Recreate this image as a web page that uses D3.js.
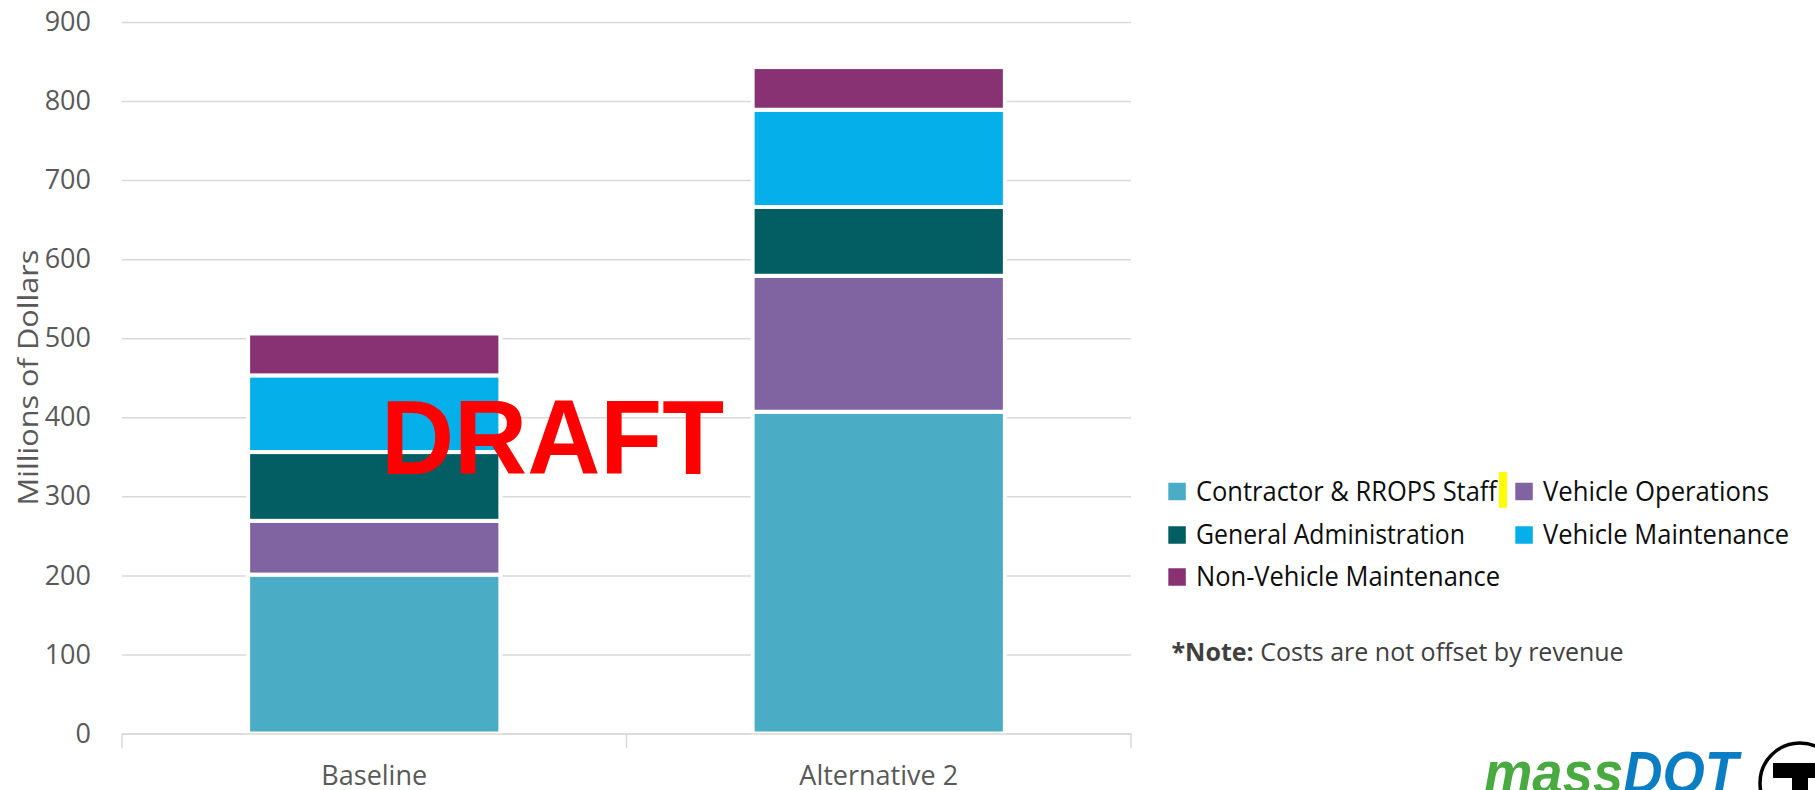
<!DOCTYPE html>
<html><head><meta charset="utf-8">
<script src="https://cdn.jsdelivr.net/npm/d3@7"></script>
<style>body{margin:0;background:#fff;} svg{display:block;font-family:"Open Sans",sans-serif;}</style>
</head><body><svg id="chart" width="1815" height="790"></svg>
<script>
const categories = ["Baseline", "Alternative 2"];
const seriesNames = ["Contractor & RROPS Staff", "Vehicle Operations", "General Administration", "Vehicle Maintenance", "Non-Vehicle Maintenance"];
const contractorStaff = [201, 407];
const vehicleOperations = [68, 172];
const generalAdministration = [87, 87];
const vehicleMaintenance = [97, 123];
const nonVehicleMaintenance = [53, 54];
const seriesColors = ["#4BACC6", "#8064A2", "#025E63", "#05AFEA", "#893273"];
const yTickValues = [0, 100, 200, 300, 400, 500, 600, 700, 800, 900];
const yTitle = "Millions of Dollars";
const noteBold = "*Note:";
const noteText = " Costs are not offset by revenue";
const watermark = "DRAFT";
const logoParts = ["mass", "DOT"];

const seriesValues = [contractorStaff, vehicleOperations, generalAdministration, vehicleMaintenance, nonVehicleMaintenance];
const table = categories.map((c, i) => {
  const row = {category: c};
  seriesNames.forEach((s, j) => row[s] = seriesValues[j][i]);
  return row;
});

const svg = d3.select("#chart");
const left = 122, right = 1131;
const x = d3.scaleBand().domain(categories).range([left, right]).paddingInner(0.5).paddingOuter(0.25);
const y = d3.scaleLinear().domain([0, 900]).range([733.5, 22]);
const color = d3.scaleOrdinal().domain(seriesNames).range(seriesColors);

// y axis with gridlines
const yAxis = svg.append("g").attr("transform", `translate(${left},0)`)
  .call(d3.axisLeft(y).tickValues(yTickValues).tickSize(-(right - left)).tickPadding(31).tickFormat(d3.format("d")));
yAxis.select(".domain").remove();
yAxis.selectAll(".tick line").attr("stroke", "#D9D9D9").attr("stroke-width", 1.5);
yAxis.selectAll(".tick text").attr("fill", "#595959").style("font-size", "27px").style("font-family", "'Open Sans', sans-serif");

// stacked bars
const stack = d3.stack().keys(seriesNames)(table);
svg.append("g").selectAll("g").data(stack).join("g")
  .attr("fill", d => color(d.key))
  .selectAll("rect").data(d => d).join("rect")
  .attr("x", d => x(d.data.category))
  .attr("width", x.bandwidth())
  .attr("y", d => y(d[1]))
  .attr("height", d => y(d[0]) - y(d[1]))
  .attr("stroke", "#fff").attr("stroke-width", 4);

// x axis
const xAxis = svg.append("g").attr("transform", `translate(0,${y(0)})`)
  .call(d3.axisBottom(x).tickSize(0).tickPadding(0).tickFormat(""));
xAxis.select(".domain").attr("stroke", "#D9D9D9").attr("stroke-width", 1.5);
xAxis.selectAll(".tick").remove();
const boundaries = [left, (left + right) / 2, right];
xAxis.selectAll("line.sep").data(boundaries).join("line").attr("class", "sep")
  .attr("x1", d => d).attr("x2", d => d).attr("y1", 0).attr("y2", 14.5)
  .attr("stroke", "#D9D9D9").attr("stroke-width", 1.5);
svg.append("g").selectAll("text").data(categories).join("text")
  .attr("x", d => x(d) + x.bandwidth() / 2).attr("y", 785)
  .attr("text-anchor", "middle").attr("fill", "#595959").style("font-size", "27px")
  .text(d => d);

// y title
svg.append("text").attr("transform", "translate(37.5,377.5) rotate(-90)")
  .attr("text-anchor", "middle").attr("fill", "#595959").style("font-size", "28px")
  .attr("textLength", 256).attr("lengthAdjust", "spacingAndGlyphs")
  .text(yTitle);

// watermark
svg.append("text").attr("x", 381).attr("y", 474.3)
  .attr("fill", "#FF0000").style("font-family", "'Liberation Sans', Arial, sans-serif")
  .style("font-weight", "bold").style("font-size", "106px")
  .attr("textLength", 343).attr("lengthAdjust", "spacingAndGlyphs")
  .text(watermark);

// legend
const legendPos = [
  {x: 1168.3, y: 491.5}, {x: 1515.3, y: 491.5},
  {x: 1168.3, y: 535}, {x: 1515.3, y: 535},
  {x: 1168.3, y: 577}
];
const legendTextWidth = [301, 226, 269, 246, 304];
const lg = svg.append("g").selectAll("g").data(seriesNames).join("g")
  .attr("transform", (d, i) => `translate(${legendPos[i].x},${legendPos[i].y})`);
lg.append("rect").attr("x", 0).attr("y", -8.75).attr("width", 17.5).attr("height", 17.5)
  .attr("fill", d => color(d));
lg.append("text").attr("x", 27.7).attr("y", 9.4).attr("fill", "#0D0D0D")
  .style("font-size", "27px")
  .attr("textLength", (d, i) => legendTextWidth[i]).attr("lengthAdjust", "spacingAndGlyphs")
  .text(d => d);
svg.append("rect").attr("x", 1499).attr("y", 472).attr("width", 8).attr("height", 35.7).attr("fill", "#FFFF00");

// note
const note = svg.append("text").attr("x", 1171.5).attr("y", 661).attr("fill", "#404040").style("font-size", "25px");
note.append("tspan").style("font-weight", "bold").text(noteBold);
note.append("tspan").text(noteText);

// logo
const logo = svg.append("text").attr("x", 1484).attr("y", 793)
  .style("font-family", "'Liberation Sans', Arial, sans-serif").style("font-weight", "bold")
  .style("font-style", "italic").style("font-size", "60px")
  .attr("textLength", 254).attr("lengthAdjust", "spacingAndGlyphs");
logo.append("tspan").attr("fill", "#4AAA42").text(logoParts[0]);
logo.append("tspan").attr("fill", "#0B7DC3").text(logoParts[1]);
svg.append("circle").attr("cx", 1800).attr("cy", 783).attr("r", 40)
  .attr("fill", "#fff").attr("stroke", "#000").attr("stroke-width", 3.5);
svg.append("path").attr("d", "M1773,763 H1827 V778 H1808 V800 H1792 V778 H1773 Z").attr("fill", "#000");
</script></body></html>
